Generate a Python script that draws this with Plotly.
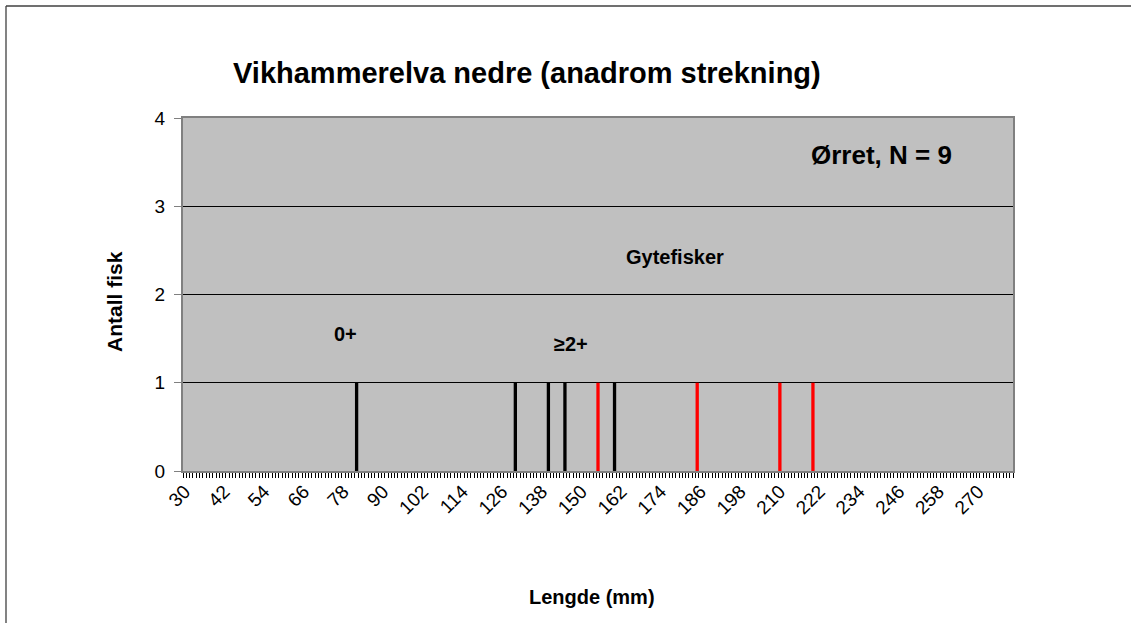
import plotly.graph_objects as go

# Lengder (mm) for hver fisk, ett strek per fisk
lengder_ungfisk = [82, 130, 140, 145, 160]
antall_ungfisk = [1, 1, 1, 1, 1]
lengder_gytefisk = [155, 185, 210, 220]
antall_gytefisk = [1, 1, 1, 1]

x_ticks = list(range(30, 271, 12))
y_ticks = [0, 1, 2, 3, 4]

FONT = "Liberation Sans, Arial, sans-serif"

W, H = 1131, 623
# plottområde i piksler: x 183-1013, y 118-471
X0, X1, Y0, Y1 = 183, 1013, 118, 471
L, T, R, B = X0, Y0, W - X1, H - Y1
PW, PH = X1 - X0, Y1 - Y0


def px(x):
    return (x - X0) / PW


def py(y):
    return (Y1 - y) / PH


fig = go.Figure()

fig.add_trace(
    go.Bar(
        x=lengder_ungfisk,
        y=antall_ungfisk,
        width=1.0,
        marker={"color": "#000000", "line": {"width": 0}},
        name="Ørret",
    )
)

fig.add_trace(
    go.Bar(
        x=lengder_gytefisk,
        y=antall_gytefisk,
        width=1.0,
        marker={"color": "#FF0000", "line": {"width": 0}},
        name="Gytefisker",
    )
)

annotations = [
    {"text": "<b>Vikhammerelva nedre (anadrom strekning)</b>", "x": px(527), "y": py(73), "size": 29},
    {"text": "<b>Ørret, N = 9</b>", "x": px(881), "y": py(155), "size": 26},
    {"text": "<b>Gytefisker</b>", "x": px(675), "y": py(257), "size": 20},
    {"text": "<b>0+</b>", "x": px(345), "y": py(334), "size": 20},
    {"text": "<b>≥2+</b>", "x": px(571), "y": py(344), "size": 20},
    {"text": "<b>Lengde (mm)</b>", "x": px(592), "y": py(597), "size": 20},
]

fig.update_layout(
    width=W,
    height=H,
    margin={"l": L, "r": R, "t": T, "b": B, "autoexpand": False},
    paper_bgcolor="white",
    plot_bgcolor="#C0C0C0",
    showlegend=False,
    barmode="overlay",
    font={"family": FONT, "color": "black"},
    annotations=[
        {
            "text": a["text"],
            "x": a["x"],
            "y": a["y"],
            "xref": "paper",
            "yref": "paper",
            "showarrow": False,
            "xanchor": "center",
            "yanchor": "middle",
            "font": {"family": FONT, "size": a["size"], "color": "black"},
        }
        for a in annotations
    ]
    + [
        {
            "text": "<b>Antall fisk</b>",
            "x": px(114),
            "y": py(302),
            "xref": "paper",
            "yref": "paper",
            "showarrow": False,
            "textangle": -90,
            "xanchor": "center",
            "yanchor": "middle",
            "font": {"family": FONT, "size": 21, "color": "black"},
        }
    ],
    shapes=[
        {
            "type": "line",
            "xref": "paper",
            "yref": "paper",
            "x0": px(6),
            "x1": px(1140),
            "y0": py(6),
            "y1": py(6),
            "line": {"color": "#404040", "width": 1.3},
        },
        {
            "type": "line",
            "xref": "paper",
            "yref": "paper",
            "x0": px(6),
            "x1": px(6),
            "y0": py(6),
            "y1": py(640),
            "line": {"color": "#404040", "width": 1.3},
        },
    ],
)

fig.update_xaxes(
    range=[29.5, 280.5],
    tickmode="array",
    tickvals=x_ticks,
    ticktext=[str(v) for v in x_ticks],
    tickangle=-45,
    ticks="",
    tickfont={"family": FONT, "size": 19, "color": "black"},
    showgrid=False,
    zeroline=False,
    showline=True,
    mirror=True,
    linecolor="#808080",
    linewidth=2,
    minor={
        "ticks": "outside",
        "tickmode": "linear",
        "tick0": 29.5,
        "dtick": 1,
        "ticklen": 5,
        "tickcolor": "#000000",
        "tickwidth": 1,
        "showgrid": False,
    },
)

fig.update_yaxes(
    range=[0, 4],
    tickvals=y_ticks,
    ticks="outside",
    ticklen=7,
    tickcolor="#808080",
    tickwidth=1,
    ticklabelstandoff=5,
    tickfont={"family": FONT, "size": 19, "color": "black"},
    showgrid=True,
    gridcolor="#000000",
    gridwidth=1,
    zeroline=False,
    showline=True,
    mirror=True,
    linecolor="#808080",
    linewidth=2,
)

# fjern standardmargen i <body> slik at figuren starter i hjørnet
fig.write_html(
    "out.html",
    config={"displayModeBar": False},
    post_script="document.body.style.margin = '0px';",
)
